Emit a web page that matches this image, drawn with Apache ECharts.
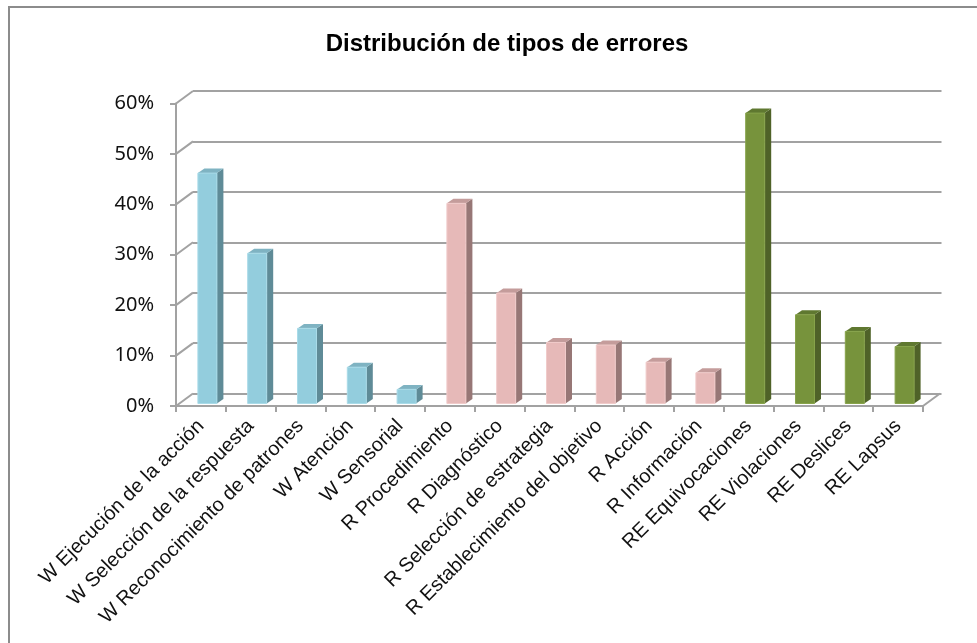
<!DOCTYPE html>
<html>
<head>
<meta charset="utf-8">
<title>Distribución de tipos de errores</title>
<script src="https://cdn.jsdelivr.net/npm/echarts@6/dist/echarts.min.js"></script>
<style>
  html, body { margin: 0; padding: 0; background: #fff; }
  #chart { width: 977px; height: 643px; }
</style>
</head>
<body>
<div id="chart"></div>
<script>
// Categories along the floor of the chart
const categories = [
  'W Ejecución de la acción',
  'W Selección de la respuesta',
  'W Reconocimiento de patrones',
  'W Atención',
  'W Sensorial',
  'R Procedimiento',
  'R Diagnóstico',
  'R Selección de estrategia',
  'R Establecimiento del objetivo',
  'R Acción',
  'R Información',
  'RE Equivocaciones',
  'RE Violaciones',
  'RE Deslices',
  'RE Lapsus'
];

// Share of errors (%) in each group
const valuesW  = [45.7, 29.8, 14.9, 7.2, 2.8];
const valuesR  = [39.7, 21.9, 12.1, 11.6, 8.2, 6.1];
const valuesRE = [57.6, 17.6, 14.3, 11.3];

// Value axis ticks (%)
const yTicks = [0, 10, 20, 30, 40, 50, 60];

// Pseudo-3D geometry: depth offset of the back wall, and bar box offsets
const DEPTH_X = 17, DEPTH_Y = 12.5;
const FACE_L = -3, FACE_R = 16, LIFT = 2.5, SIDE_DX = 6.5, SIDE_DY = 4.5;

const GRID_LEFT = 176, GRID_TOP = 103.5, GRID_W = 747, GRID_BOTTOM_Y = 406;
const GRID_H = GRID_BOTTOM_Y - GRID_TOP;

const lineColor = '#a2a2a2';
const lineWidth = 2;

// pair each group's values with its category index
const startR = valuesW.length;
const startRE = startR + valuesR.length;
const dataW  = valuesW.map((v, i) => [i, v]);
const dataR  = valuesR.map((v, i) => [startR + i, v]);
const dataRE = valuesRE.map((v, i) => [startRE + i, v]);

function boxRenderer(colors) {
  return function (params, api) {
    const idx = api.value(0), v = api.value(1);
    const top = api.coord([idx, v]);
    const base = api.coord([idx, 0]);
    const xc = top[0];
    const x0 = xc + FACE_L, x1 = xc + FACE_R;
    const yt = top[1] - LIFT, yb = base[1] - LIFT;
    return {
      type: 'group',
      children: [
        { type: 'polygon',
          shape: { points: [[x1, yt], [x1 + SIDE_DX, yt - SIDE_DY], [x1 + SIDE_DX, yb - SIDE_DY], [x1, yb]] },
          style: { fill: colors.side } },
        { type: 'polygon',
          shape: { points: [[x0, yt], [x1, yt], [x1 + SIDE_DX, yt - SIDE_DY], [x0 + SIDE_DX, yt - SIDE_DY]] },
          style: { fill: colors.top } },
        { type: 'rect',
          shape: { x: x0, y: yt, width: x1 - x0, height: yb - yt },
          style: { fill: colors.front, stroke: colors.edge, lineWidth: 1 } }
      ]
    };
  };
}

// diagonal edges of the left wall, one per value tick
function wallEdge(params, api) {
  const p = api.coord([0, api.value(0)]);
  const x = params.coordSys.x;
  return {
    type: 'line',
    shape: { x1: x, y1: p[1], x2: x + DEPTH_X, y2: p[1] - DEPTH_Y },
    style: { stroke: lineColor, lineWidth: lineWidth }
  };
}

// diagonal edge at the right end of the floor
function floorEdge(params, api) {
  const cs = params.coordSys;
  const y = api.coord([0, 0])[1];
  const x = cs.x + cs.width;
  return {
    type: 'line',
    shape: { x1: x, y1: y, x2: x + DEPTH_X, y2: y - DEPTH_Y },
    style: { stroke: lineColor, lineWidth: lineWidth }
  };
}

const chart = echarts.init(document.getElementById('chart'), null, { renderer: 'canvas' });

chart.setOption({
  animation: false,
  backgroundColor: '#ffffff',
  title: {
    text: 'Distribución de tipos de errores',
    left: 502,
    top: 27,
    textAlign: 'center',
    textStyle: { fontFamily: 'Liberation Sans', fontSize: 24, fontWeight: 'bold', color: '#000' }
  },
  graphic: [{
    type: 'rect',
    shape: { x: 9, y: 7, width: 1000, height: 700 },
    style: { fill: 'none', stroke: '#8c8c8c', lineWidth: 2 },
    silent: true,
    z: -1
  }],
  grid: [
    { left: GRID_LEFT, top: GRID_TOP, width: GRID_W, height: GRID_H },
    { left: GRID_LEFT + DEPTH_X, top: GRID_TOP - DEPTH_Y, width: GRID_W + 1.5, height: GRID_H }
  ],
  xAxis: [
    {
      type: 'category', gridIndex: 0, data: categories,
      axisLine: { lineStyle: { color: lineColor, width: lineWidth } },
      axisTick: { show: true, length: 6, lineStyle: { color: lineColor, width: lineWidth } },
      axisLabel: {
        interval: 0, rotate: 45, margin: 17,
        fontFamily: 'Liberation Sans', fontSize: 20, color: '#111'
      },
      splitLine: { show: false }
    },
    {
      type: 'category', gridIndex: 1, data: categories,
      axisLine: { show: false }, axisTick: { show: false }, axisLabel: { show: false },
      splitLine: { show: false }
    }
  ],
  yAxis: [
    {
      type: 'value', gridIndex: 0, min: yTicks[0], max: yTicks[yTicks.length - 1], interval: 10,
      axisLine: { show: true, lineStyle: { color: lineColor, width: lineWidth } },
      axisTick: { show: true, length: 6, lineStyle: { color: lineColor, width: lineWidth } },
      axisLabel: {
        margin: 22, formatter: '{value}%',
        fontFamily: 'Noto Sans', fontSize: 20, color: '#111'
      },
      splitLine: { show: false }
    },
    {
      type: 'value', gridIndex: 1, min: yTicks[0], max: yTicks[yTicks.length - 1], interval: 10,
      axisLine: { show: false }, axisTick: { show: false }, axisLabel: { show: false },
      splitLine: { show: true, lineStyle: { color: lineColor, width: lineWidth } }
    }
  ],
  series: [
    { type: 'custom', name: 'pared', xAxisIndex: 0, yAxisIndex: 0, z: 1,
      data: yTicks.map(v => [v]), renderItem: wallEdge, silent: true },
    { type: 'custom', name: 'suelo', xAxisIndex: 0, yAxisIndex: 0, z: 1,
      data: [[0]], renderItem: floorEdge, silent: true },
    { type: 'custom', name: 'W', xAxisIndex: 0, yAxisIndex: 0, z: 3,
      data: dataW,
      renderItem: boxRenderer({ front: '#93cddd', side: '#5f8b97', top: '#7fb3c2', edge: '#a9dbe8' }) },
    { type: 'custom', name: 'R', xAxisIndex: 0, yAxisIndex: 0, z: 3,
      data: dataR,
      renderItem: boxRenderer({ front: '#e6b9b8', side: '#977776', top: '#c49c9b', edge: '#f0cbca' }) },
    { type: 'custom', name: 'RE', xAxisIndex: 0, yAxisIndex: 0, z: 3,
      data: dataRE,
      renderItem: boxRenderer({ front: '#77933c', side: '#4f6228', top: '#5f7830', edge: '#87a34a' }) }
  ]
});
</script>
</body>
</html>
